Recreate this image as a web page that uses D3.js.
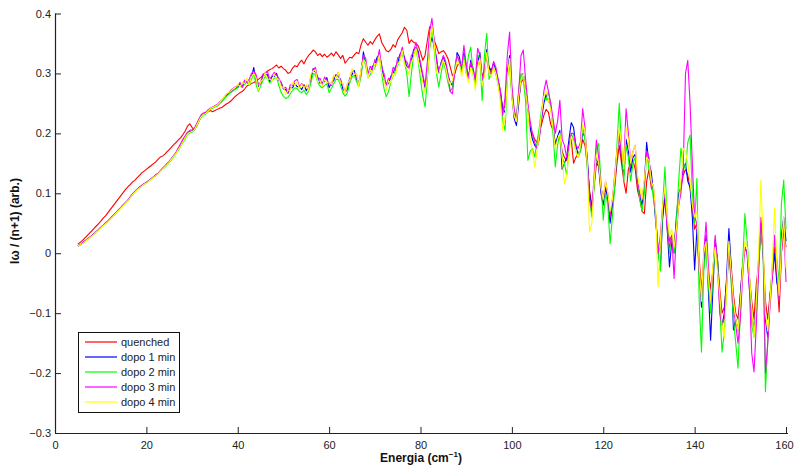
<!DOCTYPE html>
<html>
<head>
<meta charset="utf-8">
<script src="https://cdn.jsdelivr.net/npm/d3@7"></script>
<style>
  html, body { margin: 0; padding: 0; background: #fff; }
  svg { display: block; }
  text { font-family: "Liberation Sans", Arial, Helvetica, sans-serif; }
</style>
</head>
<body>
<svg id="chart" width="794" height="468"></svg>
<script>
// Energy grid (cm^-1), sampled every 0.5 from 5 to 160
const energy = d3.range(5, 160.001, 0.5);

const seriesNames = ["quenched", "dopo 1 min", "dopo 2 min", "dopo 3 min", "dopo 4 min"];
const seriesColors = ["#ff0000", "#0000ff", "#00ff00", "#ff00ff", "#ffff00"];

const quenched = [
 .015,.018,.021,.025,.029,.033,.037,.041,.045,.049,
 .053,.058,.062,.067,.072,.077,.082,.087,.092,.097,
 .102,.107,.111,.115,.119,.122,.126,.130,.134,.137,
 .140,.143,.146,.149,.152,.156,.160,.162,.165,.169,
 .173,.177,.181,.185,.189,.193,.198,.204,.212,.216,
 .210,.206,.212,.220,.228,.233,.235,.236,.238,.236,
 .238,.240,.242,.243,.246,.249,.251,.254,.258,.262,
 .265,.268,.270,.274,.279,.281,.283,.285,.287,.290,
 .293,.297,.301,.304,.306,.308,.311,.314,.309,.312,
 .308,.305,.300,.302,.309,.313,.311,.318,.322,.316,
 .324,.330,.334,.339,.336,.330,.333,.328,.332,.327,
 .330,.334,.329,.336,.331,.325,.330,.317,.322,.327,
 .326,.331,.335,.333,.348,.358,.352,.347,.353,.349,
 .356,.362,.366,.352,.345,.338,.336,.340,.348,.344,
 .356,.362,.368,.377,.372,.350,.356,.352,.350,.346,
 .335,.322,.330,.355,.378,.375,.355,.345,.333,.336,
 .338,.333,.325,.311,.296,.300,.312,.318,.305,.320,
 .310,.295,.315,.305,.290,.315,.320,.295,.305,.330,
 .310,.300,.310,.300,.285,.265,.240,.245,.300,.320,
 .270,.235,.225,.255,.285,.290,.270,.240,.205,.200,
 .190,.185,.200,.215,.230,.240,.235,.215,.205,.185,
 .190,.195,.170,.160,.155,.180,.190,.150,.160,.165,
 .170,.190,.180,.150,.105,.080,.110,.150,.145,.110,
 .090,.110,.095,.060,.080,.110,.150,.180,.150,.120,
 .100,.140,.150,.155,.140,.105,.090,.070,.066,.120,
 .140,.110,.100,.060,.000,.010,.060,.090,.050,.020,
 .030,.010,.050,.080,.110,.130,.140,.130,.110,.080,
 .040,.050,-.010,-.060,-.020,.010,-.030,-.060,-.028,.010,
 -.010,-.060,-.100,-.090,-.050,.010,-.020,-.070,-.100,-.110,
 -.070,-.020,.010,.000,-.040,-.080,-.110,-.051,-.020,.040,
 .000,-.080,-.110,-.070,-.030,.010,-.040,-.098,.000,.040,
 .010
];

const dopo1 = [
 .012,.014,.017,.020,.023,.026,.029,.032,.036,.039,
 .043,.046,.050,.053,.057,.061,.065,.069,.073,.077,
 .081,.085,.089,.094,.099,.103,.107,.110,.113,.116,
 .118,.121,.124,.127,.130,.133,.137,.141,.145,.149,
 .153,.158,.163,.168,.174,.180,.187,.194,.200,.203,
 .204,.207,.214,.222,.229,.233,.234,.238,.241,.243,
 .245,.246,.250,.254,.258,.263,.266,.270,.272,.275,
 .277,.283,.278,.286,.285,.284,.293,.310,.287,.278,
 .282,.295,.298,.298,.286,.295,.295,.300,.288,.285,
 .274,.273,.267,.276,.276,.283,.278,.278,.273,.281,
 .271,.278,.288,.308,.302,.294,.284,.285,.286,.293,
 .276,.285,.288,.298,.295,.290,.274,.269,.273,.292,
 .298,.305,.290,.285,.298,.336,.316,.302,.303,.312,
 .314,.327,.332,.314,.290,.283,.283,.295,.300,.311,
 .316,.332,.337,.327,.310,.312,.320,.340,.343,.337,
 .313,.295,.275,.300,.345,.360,.345,.325,.300,.318,
 .328,.315,.298,.285,.280,.300,.335,.328,.305,.335,
 .312,.290,.322,.305,.285,.318,.335,.288,.300,.340,
 .310,.305,.318,.305,.288,.270,.240,.235,.300,.330,
 .265,.225,.213,.250,.295,.300,.275,.245,.210,.190,
 .180,.175,.195,.225,.250,.265,.255,.245,.215,.180,
 .195,.205,.140,.150,.160,.190,.218,.210,.180,.165,
 .175,.200,.195,.160,.100,.075,.115,.160,.145,.100,
 .080,.110,.090,.050,.080,.115,.165,.205,.160,.130,
 .190,.170,.135,.160,.165,.115,.095,.080,.115,.185,
 .150,.136,.100,.050,.010,-.028,.060,.100,.040,-.023,
 .020,.000,.060,.100,.110,.140,.150,.120,.110,.060,
 -.028,.040,-.030,-.090,-.020,.030,-.060,-.145,-.060,.022,
 -.010,-.080,-.120,-.100,-.040,.041,-.020,-.128,-.110,-.130,
 -.070,-.020,.010,.000,-.060,-.100,-.130,-.080,-.010,.050,
 .000,-.110,-.140,-.070,-.040,.000,-.050,-.060,.030,.060,
 .020
];

const dopo2 = [
 .012,.014,.016,.019,.022,.025,.028,.032,.035,.039,
 .042,.046,.049,.053,.057,.060,.064,.068,.072,.076,
 .080,.084,.088,.093,.098,.102,.106,.109,.112,.115,
 .117,.120,.123,.126,.129,.132,.136,.140,.143,.147,
 .151,.156,.161,.166,.172,.178,.185,.191,.198,.201,
 .202,.205,.212,.220,.227,.231,.232,.236,.240,.242,
 .244,.246,.249,.253,.257,.262,.265,.268,.271,.274,
 .276,.279,.277,.282,.285,.280,.290,.300,.282,.270,
 .279,.288,.295,.291,.284,.288,.292,.293,.280,.268,
 .262,.258,.260,.266,.272,.276,.275,.270,.268,.272,
 .265,.270,.284,.300,.298,.285,.279,.276,.280,.283,
 .268,.275,.283,.290,.290,.280,.268,.262,.268,.284,
 .294,.298,.286,.278,.296,.328,.312,.293,.298,.304,
 .310,.318,.328,.300,.275,.261,.270,.285,.297,.304,
 .312,.324,.333,.318,.300,.261,.300,.330,.340,.320,
 .290,.262,.244,.290,.340,.375,.340,.300,.277,.300,
 .320,.305,.285,.270,.276,.310,.330,.320,.300,.330,
 .300,.330,.344,.300,.280,.330,.325,.255,.330,.367,
 .290,.300,.310,.300,.280,.260,.220,.205,.290,.320,
 .260,.235,.225,.275,.300,.290,.255,.155,.170,.175,
 .161,.185,.210,.240,.260,.255,.269,.250,.200,.144,
 .180,.200,.160,.150,.130,.170,.200,.190,.170,.160,
 .170,.210,.190,.140,.090,.060,.110,.175,.183,.120,
 .055,.100,.080,.016,.060,.110,.180,.250,.180,.120,
 .180,.160,.120,.150,.160,.120,.090,.070,.100,.170,
 .140,.120,.090,.060,.000,-.030,.080,.144,.060,.000,
 .030,.000,.050,.120,.175,.150,.140,.185,.197,.100,
 .050,.125,-.080,-.165,-.030,.010,-.050,-.100,-.040,.010,
 -.010,-.090,-.165,-.130,-.060,.000,-.050,-.110,-.150,-.192,
 -.100,-.020,.066,.020,-.040,-.120,-.140,-.100,-.030,.040,
 .000,-.231,-.150,-.080,-.020,.030,-.010,-.050,.083,.122,
 .040
];

const dopo3 = [
 .012,.014,.017,.020,.023,.026,.029,.032,.036,.039,
 .043,.046,.050,.053,.057,.061,.065,.069,.073,.077,
 .081,.085,.089,.094,.099,.103,.107,.110,.113,.116,
 .118,.121,.124,.127,.130,.133,.137,.141,.145,.149,
 .153,.158,.163,.169,.176,.183,.190,.196,.202,.205,
 .206,.209,.216,.224,.231,.234,.235,.239,.242,.244,
 .246,.248,.252,.256,.260,.265,.268,.272,.275,.278,
 .279,.285,.277,.289,.285,.290,.300,.304,.298,.282,
 .285,.299,.300,.303,.290,.296,.302,.297,.292,.284,
 .275,.277,.268,.281,.280,.288,.290,.278,.283,.277,
 .280,.274,.296,.305,.310,.290,.292,.281,.294,.289,
 .285,.280,.296,.293,.302,.286,.282,.268,.282,.288,
 .306,.300,.298,.280,.306,.330,.325,.298,.312,.306,
 .323,.318,.340,.310,.300,.280,.292,.290,.310,.305,
 .326,.328,.344,.322,.320,.308,.330,.336,.352,.332,
 .318,.298,.280,.320,.370,.392,.355,.320,.305,.315,
 .330,.320,.300,.270,.266,.305,.330,.320,.310,.347,
 .315,.290,.318,.310,.290,.342,.330,.290,.310,.330,
 .300,.300,.320,.310,.290,.270,.230,.260,.330,.369,
 .280,.240,.225,.270,.330,.339,.290,.250,.220,.200,
 .185,.175,.190,.225,.270,.289,.270,.250,.225,.200,
 .220,.255,.190,.180,.160,.180,.200,.200,.180,.175,
 .185,.241,.210,.150,.090,.070,.130,.189,.160,.110,
 .090,.120,.100,.060,.090,.130,.170,.200,.160,.150,
 .241,.200,.150,.170,.180,.120,.100,.090,.120,.170,
 .160,.120,.110,.060,.000,.030,.080,.100,.040,.010,
 .030,-.042,.030,.080,.100,.140,.300,.322,.250,.150,
 .060,.050,-.030,-.070,.000,.052,-.020,-.080,-.030,.030,
 -.020,-.100,-.120,-.110,-.050,.000,-.040,-.090,-.120,-.150,
 -.110,-.040,.010,.000,-.060,-.167,-.198,-.120,-.030,.060,
 .010,-.200,-.150,-.090,-.040,.030,-.030,-.080,.000,.050,
 -.048
];

const dopo4 = [
 .012,.014,.016,.019,.022,.025,.028,.031,.035,.038,
 .042,.045,.049,.052,.056,.060,.064,.068,.072,.076,
 .080,.084,.088,.093,.098,.102,.106,.109,.112,.115,
 .117,.120,.123,.126,.129,.132,.136,.140,.144,.148,
 .152,.157,.162,.167,.173,.179,.186,.193,.199,.202,
 .203,.206,.213,.221,.228,.232,.233,.237,.241,.243,
 .245,.247,.251,.256,.260,.266,.268,.271,.274,.277,
 .282,.278,.285,.283,.292,.281,.294,.300,.292,.272,
 .286,.290,.301,.290,.291,.287,.299,.292,.290,.276,
 .278,.265,.272,.272,.285,.280,.287,.274,.282,.276,
 .282,.272,.299,.304,.306,.285,.288,.278,.290,.285,
 .286,.282,.298,.292,.302,.284,.284,.266,.284,.288,
 .308,.298,.300,.278,.308,.322,.318,.292,.306,.300,
 .317,.314,.331,.300,.290,.272,.288,.284,.300,.296,
 .316,.320,.338,.314,.310,.298,.320,.325,.342,.322,
 .305,.285,.268,.295,.345,.380,.350,.300,.300,.312,
 .322,.310,.292,.282,.290,.305,.320,.315,.295,.322,
 .300,.285,.310,.300,.272,.310,.325,.280,.295,.335,
 .300,.295,.310,.300,.280,.250,.205,.225,.290,.325,
 .260,.230,.220,.260,.290,.300,.270,.240,.190,.170,
 .144,.170,.200,.235,.262,.270,.255,.240,.210,.175,
 .190,.200,.160,.116,.130,.165,.195,.185,.170,.160,
 .180,.215,.205,.150,.035,.050,.120,.165,.150,.110,
 .090,.120,.100,.070,.090,.125,.170,.210,.180,.140,
 .210,.190,.150,.170,.180,.130,.110,.090,.125,.160,
 .155,.120,.110,.070,-.056,.020,.080,.110,.060,.030,
 .040,.010,.040,.080,.120,.175,.170,.150,.120,.080,
 .060,.070,-.020,-.080,.000,.020,-.040,-.080,-.020,.010,
 -.030,-.070,-.120,-.142,-.060,.020,-.030,-.080,-.110,-.130,
 -.080,-.030,.020,.010,-.040,-.090,-.140,-.080,.000,.122,
 .020,-.100,-.130,-.080,-.020,.075,-.020,-.070,.010,.060,
 -.025
];

const xTicks = [0, 20, 40, 60, 80, 100, 120, 140, 160];
const yTicks = [0.4, 0.3, 0.2, 0.1, 0, -0.1, -0.2, -0.3];
const xDomain = [0, 160];
const yDomain = [-0.3, 0.4];

const allSeries = [quenched, dopo1, dopo2, dopo3, dopo4];

const svg = d3.select("#chart");
const m = { left: 55, top: 13.5 };

const x = d3.scaleLinear().domain(xDomain).range([m.left, 786]);
const y = d3.scaleLinear().domain(yDomain).range([433, m.top]);

const fmt = v => (v === 0 ? "0" : (v < 0 ? "\u2212" + Math.abs(v).toFixed(1) : v.toFixed(1)));

// clip
svg.append("defs").append("clipPath").attr("id", "clip")
  .append("rect").attr("x", m.left).attr("y", m.top - 2)
  .attr("width", 790 - m.left).attr("height", 433 - m.top + 2);

// lines
const line = d3.line().x((d, i) => x(energy[i])).y(d => y(d));
const g = svg.append("g").attr("clip-path", "url(#clip)");
allSeries.forEach((s, k) => {
  g.append("path").datum(s)
    .attr("fill", "none")
    .attr("stroke", seriesColors[k])
    .attr("stroke-width", 1.1)
    .attr("stroke-linejoin", "round")
    .attr("d", line);
});

// axes
const xAxis = d3.axisBottom(x).tickValues(xTicks).tickSizeInner(-6).tickSizeOuter(0).tickPadding(8).tickFormat(d3.format("d"));
const yAxis = d3.axisLeft(y).tickValues(yTicks).tickSizeInner(-6).tickSizeOuter(0).tickPadding(4).tickFormat(fmt);

const gx = svg.append("g").attr("transform", "translate(0,433)").call(xAxis);
const gy = svg.append("g").attr("transform", `translate(${m.left},0)`).call(yAxis);

[gx, gy].forEach(a => {
  a.select(".domain").attr("stroke", "#222").attr("stroke-width", 1.2);
  a.selectAll(".tick line").attr("stroke", "#222").attr("stroke-width", 1);
  a.selectAll(".tick text").attr("fill", "#222").style("font-size", "11px")
    .style("font-family", "'Liberation Sans', Arial, sans-serif");
});
gy.select(".domain").attr("d", `M0.5,${433}V${m.top}`);
gx.select(".domain").attr("d", `M${m.left},0.5H${788}`);
// keep the last x tick label inside the window
gx.selectAll(".tick text").filter(d => d === 160).attr("dx", -2);

// axis labels
const xl = svg.append("text")
  .attr("x", 421).attr("y", 462)
  .attr("text-anchor", "middle")
  .style("font-size", "12px").style("font-weight", "bold").attr("fill", "#111");
xl.append("tspan").text("Energia (cm");
xl.append("tspan").attr("dy", -5).style("font-size", "8px").text("\u22121");
xl.append("tspan").attr("dy", 5).text(")");

svg.append("text")
  .attr("transform", "translate(19,221) rotate(-90)")
  .attr("text-anchor", "middle")
  .style("font-size", "12px").style("font-weight", "bold").attr("fill", "#111")
  .text("I\u03c9 / (n+1) (arb.)");

// legend
const lg = svg.append("g");
lg.append("rect").attr("x", 78.5).attr("y", 332.5).attr("width", 101).attr("height", 80)
  .attr("fill", "#fff").attr("stroke", "#111").attr("stroke-width", 1);
seriesNames.forEach((name, k) => {
  const yy = 342 + k * 15;
  lg.append("line").attr("x1", 85).attr("x2", 117).attr("y1", yy).attr("y2", yy)
    .attr("stroke", seriesColors[k]).attr("stroke-width", 1.2);
  lg.append("text").attr("x", 121).attr("y", yy + 4)
    .style("font-size", "11px").attr("fill", "#222").text(name);
});
</script>
</body>
</html>
